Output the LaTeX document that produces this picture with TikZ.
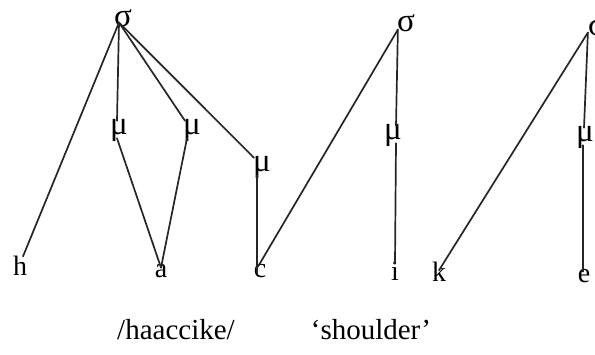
\documentclass[tikz,border=0pt]{standalone}
\usepackage{fontspec}
\setmainfont{Liberation Serif}
\begin{document}
\begin{tikzpicture}[x=1pt,y=-1pt,
  lab/.style={inner sep=0pt,anchor=base,font=\fontsize{28}{32}\selectfont},
  grk/.style={inner sep=0pt,anchor=base,font=\fontsize{33}{38}\selectfont,text height=15pt},
  captext/.style={inner sep=0pt,anchor=base,font=\fontsize{29}{34}\selectfont},
  ln/.style={line width=1.7pt,black!85,line cap=round}]
\useasboundingbox (0,0) rectangle (595,354);
% first syllable
\node[grk] (s1) at (123,26) {σ};
\node[grk] (m1) at (119,134) {μ};
\node[grk] (m2) at (192,134) {μ};
\node[grk] (m3) at (262,171) {μ};
\node[lab] (h) at (20,275) {h};
\node[lab] (a) at (161,277) {a};
\node[lab] (c) at (260,277) {c};
% second syllable
\node[grk] (s2) at (406,31) {σ};
\node[grk] (m4) at (393,139) {μ};
\node[lab] (i) at (395,280) {i};
% third syllable
\node[grk] (s3) at (597,35) {σ};
\node[grk] (m5) at (585,141) {μ};
\node[lab] (k) at (439,281) {k};
\node[lab] (e) at (584,282) {e};
% captions
\node[captext] (g) at (176,339) {/haaccike/};
\node[captext] (t) at (371,339) {‘shoulder’};
% connectors
\coordinate (o1) at ([xshift=-4pt,yshift=4pt]s1.south);
\draw[ln] (o1) -- ([xshift=3pt,yshift=-1pt]h.north);
\draw[ln] (o1) -- ([xshift=-2pt,yshift=-2pt]m1.north);
\draw[ln] (o1) -- ([xshift=-7pt,yshift=-2pt]m2.north);
\draw[ln] (o1) -- ([xshift=-8pt,yshift=-2pt]m3.north);
\draw[ln] ([xshift=-2pt,yshift=3pt]m1.south) -- ([yshift=-4pt]a.north);
\draw[ln] ([xshift=-5pt,yshift=3pt]m2.south) -- ([yshift=-4pt]a.north);
\draw[ln] ([xshift=-5pt,yshift=3pt]m3.south) -- ([xshift=-3pt,yshift=-9pt]c.north);
\coordinate (o2) at ([xshift=1pt,yshift=2pt]s2.south west);
\draw[ln] (o2) -- ([xshift=-2pt,yshift=-3pt]c.north);
\draw[ln] (o2) -- ([xshift=3pt,yshift=-2pt]m4.north);
\draw[ln] ([xshift=3pt,yshift=3pt]m4.south) -- ([yshift=-2pt]i.north);
\coordinate (o3) at ([xshift=0pt,yshift=3pt]s3.south west);
\draw[ln] (o3) -- ([yshift=1pt]k.center);
\draw[ln] (o3) -- ([xshift=-1pt,yshift=-2pt]m5.north);
\draw[ln] ([xshift=-2pt,yshift=3pt]m5.south) -- ([xshift=-1pt,yshift=-3pt]e.north);
\end{tikzpicture}
\end{document}
